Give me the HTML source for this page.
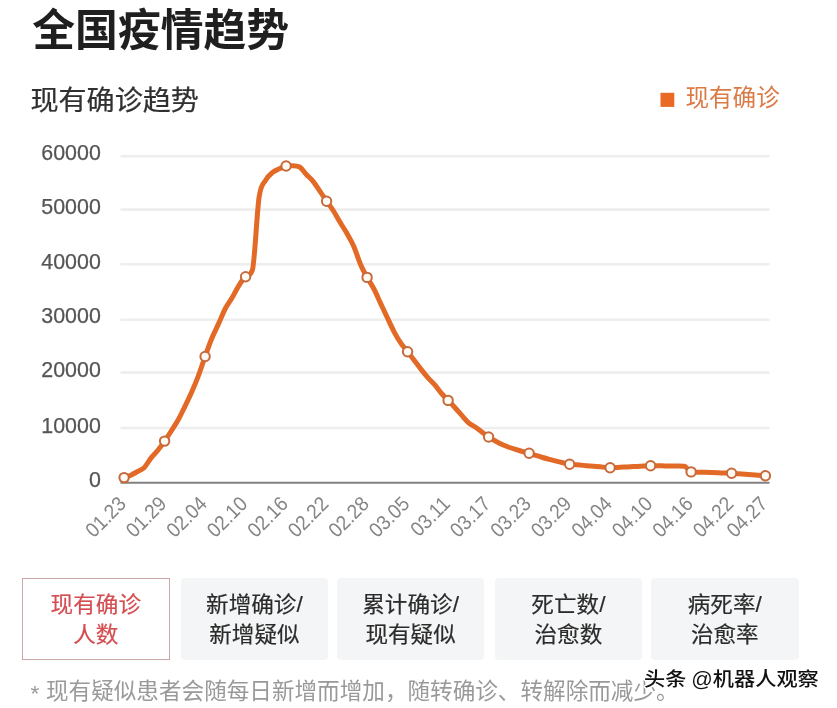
<!DOCTYPE html>
<html lang="zh-CN">
<head>
<meta charset="utf-8">
<title>全国疫情趋势</title>
<style>
html,body{margin:0;padding:0;background:#fff;}
body{width:837px;height:708px;position:relative;overflow:hidden;font-family:"Liberation Sans","Noto Sans CJK SC",sans-serif;}
.t{position:absolute;white-space:nowrap;transform-origin:0 0;font-family:"Liberation Sans","Noto Sans CJK SC",sans-serif;}
.title{left:32.3px;top:-2.6px;font-size:42.8px;line-height:64px;font-weight:700;color:#1f1f1f;transform:scaleY(1.045);}
.sub{-webkit-text-stroke:0.25px currentColor;left:30.4px;top:81.8px;font-size:28.1px;line-height:40px;color:#303030;transform:scaleY(0.98);}
.lgtx{left:685.4px;top:77.5px;font-size:23.6px;line-height:40px;color:#dc7a45;}
.chart{position:absolute;left:0;top:0;}
.yl{font-family:"Liberation Sans",sans-serif;font-size:21.4px;fill:#555;stroke:#555;stroke-width:0.25px;}
.xl{font-family:"Liberation Sans",sans-serif;font-size:19px;fill:#858585;}
.tab{-webkit-text-stroke:0.2px currentColor;position:absolute;top:578px;width:147.6px;height:81.8px;box-sizing:border-box;background:#f4f5f6;border-radius:4px;color:#2b2b2b;font-size:22.6px;line-height:31.2px;text-align:center;padding-top:11.8px;}
.tab span{display:block;transform:scaleY(0.965);transform-origin:50% 0;}
.tab.on{background:#fff;border:1px solid #cda6a8;border-radius:0;color:#d44d50;padding-top:10.8px;}
.note{left:30.6px;top:674.1px;font-size:22.6px;line-height:36px;color:#999;transform:scaleY(1.01);}
.note i{font-style:normal;display:inline-block;width:15.4px;position:relative;top:1.7px;}
.wm{left:644px;top:666.1px;font-size:21.2px;line-height:30px;color:#111;font-weight:500;word-spacing:-0.9px;transform:scaleY(0.92);text-shadow:-1px -1px 0 #fff,1px -1px 0 #fff,-1px 1px 0 #fff,1px 1px 0 #fff,0 -1.5px 0 #fff,0 1.5px 0 #fff,-1.5px 0 0 #fff,1.5px 0 0 #fff;}
</style>
</head>
<body>
<div class="t title">全国疫情趋势</div>
<div class="t sub">现有确诊趋势</div>
<div class="t lgtx">现有确诊</div>
<svg class="chart" width="837" height="708" viewBox="0 0 837 708">
<line x1="120.5" x2="769.5" y1="428.0" y2="428.0" stroke="#eeeeee" stroke-width="2.6"/>
<line x1="120.5" x2="769.5" y1="372.6" y2="372.6" stroke="#eeeeee" stroke-width="2.6"/>
<line x1="120.5" x2="769.5" y1="319.8" y2="319.8" stroke="#eeeeee" stroke-width="2.6"/>
<line x1="120.5" x2="769.5" y1="264.3" y2="264.3" stroke="#eeeeee" stroke-width="2.6"/>
<line x1="120.5" x2="769.5" y1="209.6" y2="209.6" stroke="#eeeeee" stroke-width="2.6"/>
<line x1="120.5" x2="769.5" y1="156.2" y2="156.2" stroke="#eeeeee" stroke-width="2.6"/>
<line x1="120.5" x2="769.5" y1="482.8" y2="482.8" stroke="#808080" stroke-width="1.9"/>
<text transform="translate(100.8,486.9) scale(1,1)" text-anchor="end" class="yl">0</text>
<text transform="translate(100.8,432.5) scale(1,1)" text-anchor="end" class="yl">10000</text>
<text transform="translate(100.8,377.4) scale(1,1)" text-anchor="end" class="yl">20000</text>
<text transform="translate(100.8,323.0) scale(1,1)" text-anchor="end" class="yl">30000</text>
<text transform="translate(100.8,268.7) scale(1,1)" text-anchor="end" class="yl">40000</text>
<text transform="translate(100.8,214.3) scale(1,1)" text-anchor="end" class="yl">50000</text>
<text transform="translate(100.8,159.9) scale(1,1)" text-anchor="end" class="yl">60000</text>
<text transform="translate(127.3,505.0) rotate(-45) scale(1,1.08)" text-anchor="end" class="xl">01.23</text>
<text transform="translate(167.8,505.0) rotate(-45) scale(1,1.08)" text-anchor="end" class="xl">01.29</text>
<text transform="translate(208.3,505.0) rotate(-45) scale(1,1.08)" text-anchor="end" class="xl">02.04</text>
<text transform="translate(248.8,505.0) rotate(-45) scale(1,1.08)" text-anchor="end" class="xl">02.10</text>
<text transform="translate(289.3,505.0) rotate(-45) scale(1,1.08)" text-anchor="end" class="xl">02.16</text>
<text transform="translate(329.8,505.0) rotate(-45) scale(1,1.08)" text-anchor="end" class="xl">02.22</text>
<text transform="translate(370.3,505.0) rotate(-45) scale(1,1.08)" text-anchor="end" class="xl">02.28</text>
<text transform="translate(410.8,505.0) rotate(-45) scale(1,1.08)" text-anchor="end" class="xl">03.05</text>
<text transform="translate(451.3,505.0) rotate(-45) scale(1,1.08)" text-anchor="end" class="xl">03.11</text>
<text transform="translate(491.8,505.0) rotate(-45) scale(1,1.08)" text-anchor="end" class="xl">03.17</text>
<text transform="translate(532.3,505.0) rotate(-45) scale(1,1.08)" text-anchor="end" class="xl">03.23</text>
<text transform="translate(572.8,505.0) rotate(-45) scale(1,1.08)" text-anchor="end" class="xl">03.29</text>
<text transform="translate(613.3,505.0) rotate(-45) scale(1,1.08)" text-anchor="end" class="xl">04.04</text>
<text transform="translate(653.8,505.0) rotate(-45) scale(1,1.08)" text-anchor="end" class="xl">04.10</text>
<text transform="translate(694.3,505.0) rotate(-45) scale(1,1.08)" text-anchor="end" class="xl">04.16</text>
<text transform="translate(734.8,505.0) rotate(-45) scale(1,1.08)" text-anchor="end" class="xl">04.22</text>
<text transform="translate(768.6,505.0) rotate(-45) scale(1,1.08)" text-anchor="end" class="xl">04.27</text>
<rect x="660.5" y="92.8" width="13.8" height="14.1" fill="#e86a25"/>
<path d="M124.10,477.60 C126.35,476.79 128.60,476.18 130.85,475.16 C133.10,474.15 135.35,472.80 137.60,471.50 C139.85,470.21 142.10,469.67 144.35,467.40 C146.60,465.14 148.85,460.76 151.10,457.90 C153.35,455.05 155.60,453.09 157.85,450.28 C160.10,447.48 162.35,444.35 164.60,441.10 C166.85,437.85 169.10,434.31 171.35,430.79 C173.60,427.27 175.85,424.02 178.10,419.99 C180.35,415.95 182.60,411.20 184.85,406.58 C187.10,401.97 189.35,397.42 191.60,392.30 C193.85,387.19 196.10,381.86 198.35,375.89 C200.60,369.93 202.85,362.78 205.10,356.50 C207.35,350.22 209.60,343.71 211.85,338.24 C214.10,332.76 216.35,328.61 218.60,323.65 C220.85,318.70 223.10,312.80 225.35,308.50 C227.60,304.19 229.85,301.64 232.10,297.83 C234.35,294.01 236.60,289.15 238.85,285.63 C241.10,282.11 243.35,277.92 245.60,276.70 C247.85,275.48 250.10,276.58 252.35,270.27 C254.60,263.96 256.85,212.27 259.10,197.21 C261.35,182.16 263.60,184.06 265.85,179.92 C268.10,175.79 270.35,174.24 272.60,172.40 C274.85,170.56 277.10,169.93 279.35,168.86 C281.60,167.79 283.85,166.31 286.10,166.00 C288.35,165.69 290.60,165.69 292.85,165.69 C295.10,165.69 297.35,165.69 299.60,166.96 C301.85,168.24 304.10,172.06 306.35,174.45 C308.60,176.84 310.85,178.53 313.10,181.31 C315.35,184.09 317.60,187.81 319.85,191.13 C322.10,194.44 324.35,197.93 326.60,201.20 C328.85,204.47 331.10,207.22 333.35,210.73 C335.60,214.24 337.85,218.50 340.10,222.27 C342.35,226.04 344.60,229.40 346.85,233.35 C349.10,237.30 351.35,240.85 353.60,245.95 C355.85,251.04 358.10,258.70 360.35,263.94 C362.60,269.18 364.85,273.26 367.10,277.40 C369.35,281.54 371.60,284.44 373.85,288.77 C376.10,293.09 378.35,298.52 380.60,303.36 C382.85,308.19 385.10,313.05 387.35,317.79 C389.60,322.53 391.85,327.57 394.10,331.80 C396.35,336.02 398.60,339.83 400.85,343.14 C403.10,346.46 405.35,348.82 407.60,351.70 C409.85,354.58 412.10,357.49 414.35,360.44 C416.60,363.39 418.85,366.52 421.10,369.38 C423.35,372.25 425.60,375.09 427.85,377.64 C430.10,380.18 432.35,382.08 434.60,384.68 C436.85,387.28 439.10,390.63 441.35,393.25 C443.60,395.87 445.85,398.03 448.10,400.40 C450.35,402.77 452.60,404.99 454.85,407.46 C457.10,409.92 459.35,412.69 461.60,415.20 C463.85,417.72 466.10,420.58 468.35,422.56 C470.60,424.54 472.85,425.48 475.10,427.06 C477.35,428.64 479.60,430.38 481.85,432.04 C484.10,433.69 486.35,435.50 488.60,437.00 C490.85,438.50 493.10,439.77 495.35,441.02 C497.60,442.27 499.85,443.46 502.10,444.50 C504.35,445.54 506.60,446.40 508.85,447.23 C511.10,448.06 513.35,448.75 515.60,449.46 C517.85,450.17 520.10,450.86 522.35,451.50 C524.60,452.14 526.85,452.64 529.10,453.30 C531.35,453.96 533.60,454.78 535.85,455.48 C538.10,456.18 540.35,456.86 542.60,457.50 C544.85,458.15 547.10,458.77 549.35,459.38 C551.60,459.98 553.85,460.55 556.10,461.11 C558.35,461.67 560.60,462.20 562.85,462.71 C565.10,463.23 567.35,463.86 569.60,464.20 C571.85,464.54 574.10,464.59 576.35,464.78 C578.60,464.98 580.85,465.17 583.10,465.37 C585.35,465.56 587.60,465.76 589.85,465.95 C592.10,466.14 594.35,466.34 596.60,466.53 C598.85,466.73 601.10,466.92 603.35,467.12 C605.60,467.31 607.85,467.70 610.10,467.70 C612.35,467.70 614.60,467.49 616.85,467.38 C619.10,467.28 621.35,467.17 623.60,467.07 C625.85,466.96 628.10,466.86 630.35,466.75 C632.60,466.64 634.85,466.54 637.10,466.43 C639.35,466.33 641.60,466.22 643.85,466.12 C646.10,466.01 648.35,465.80 650.60,465.80 C652.85,465.80 655.10,465.81 657.35,465.83 C659.60,465.84 661.85,465.86 664.10,465.88 C666.35,465.90 668.60,465.91 670.85,465.94 C673.10,465.96 675.35,466.01 677.60,466.02 C679.85,466.02 682.10,466.02 684.35,466.15 C686.60,466.29 688.85,471.67 691.10,471.90 C693.35,472.13 695.60,472.12 697.85,472.13 C700.10,472.15 702.35,472.29 704.60,472.37 C706.85,472.44 709.10,472.52 711.35,472.60 C713.60,472.68 715.85,472.76 718.10,472.83 C720.35,472.91 722.60,472.99 724.85,473.07 C727.10,473.14 729.35,473.18 731.60,473.30 C733.85,473.42 736.10,473.63 738.35,473.80 C740.60,473.97 742.85,474.13 745.10,474.30 C747.35,474.47 749.60,474.63 751.85,474.80 C754.10,474.97 756.35,475.13 758.60,475.30 C760.85,475.47 763.10,475.63 765.35,475.80" fill="none" stroke="#e36a26" stroke-width="5" stroke-linejoin="round" stroke-linecap="round"/>
<circle cx="124.1" cy="477.6" r="4.7" fill="#fffaf2" stroke="#c66a3c" stroke-width="2"/>
<circle cx="164.6" cy="441.1" r="4.7" fill="#fffaf2" stroke="#c66a3c" stroke-width="2"/>
<circle cx="205.1" cy="356.5" r="4.7" fill="#fffaf2" stroke="#c66a3c" stroke-width="2"/>
<circle cx="245.6" cy="276.7" r="4.7" fill="#fffaf2" stroke="#c66a3c" stroke-width="2"/>
<circle cx="286.1" cy="166.0" r="4.7" fill="#fffaf2" stroke="#c66a3c" stroke-width="2"/>
<circle cx="326.6" cy="201.2" r="4.7" fill="#fffaf2" stroke="#c66a3c" stroke-width="2"/>
<circle cx="367.1" cy="277.4" r="4.7" fill="#fffaf2" stroke="#c66a3c" stroke-width="2"/>
<circle cx="407.6" cy="351.7" r="4.7" fill="#fffaf2" stroke="#c66a3c" stroke-width="2"/>
<circle cx="448.1" cy="400.4" r="4.7" fill="#fffaf2" stroke="#c66a3c" stroke-width="2"/>
<circle cx="488.6" cy="437.0" r="4.7" fill="#fffaf2" stroke="#c66a3c" stroke-width="2"/>
<circle cx="529.1" cy="453.3" r="4.7" fill="#fffaf2" stroke="#c66a3c" stroke-width="2"/>
<circle cx="569.6" cy="464.2" r="4.7" fill="#fffaf2" stroke="#c66a3c" stroke-width="2"/>
<circle cx="610.1" cy="467.7" r="4.7" fill="#fffaf2" stroke="#c66a3c" stroke-width="2"/>
<circle cx="650.6" cy="465.8" r="4.7" fill="#fffaf2" stroke="#c66a3c" stroke-width="2"/>
<circle cx="691.1" cy="471.9" r="4.7" fill="#fffaf2" stroke="#c66a3c" stroke-width="2"/>
<circle cx="731.6" cy="473.3" r="4.7" fill="#fffaf2" stroke="#c66a3c" stroke-width="2"/>
<circle cx="765.4" cy="475.8" r="4.7" fill="#fffaf2" stroke="#c66a3c" stroke-width="2"/>
</svg>
<div class="tab on" style="left:22px"><span>现有确诊<br>人数</span></div>
<div class="tab" style="left:180.6px"><span>新增确诊/<br>新增疑似</span></div>
<div class="tab" style="left:336.8px"><span>累计确诊/<br>现有疑似</span></div>
<div class="tab" style="left:494.6px"><span>死亡数/<br>治愈数</span></div>
<div class="tab" style="left:651px"><span>病死率/<br>治愈率</span></div>
<div class="t note"><i>*</i>现有疑似患者会随每日新增而增加，随转确诊、转解除而减少。</div>
<div class="t wm">头条 @机器人观察</div>
</body>
</html>
